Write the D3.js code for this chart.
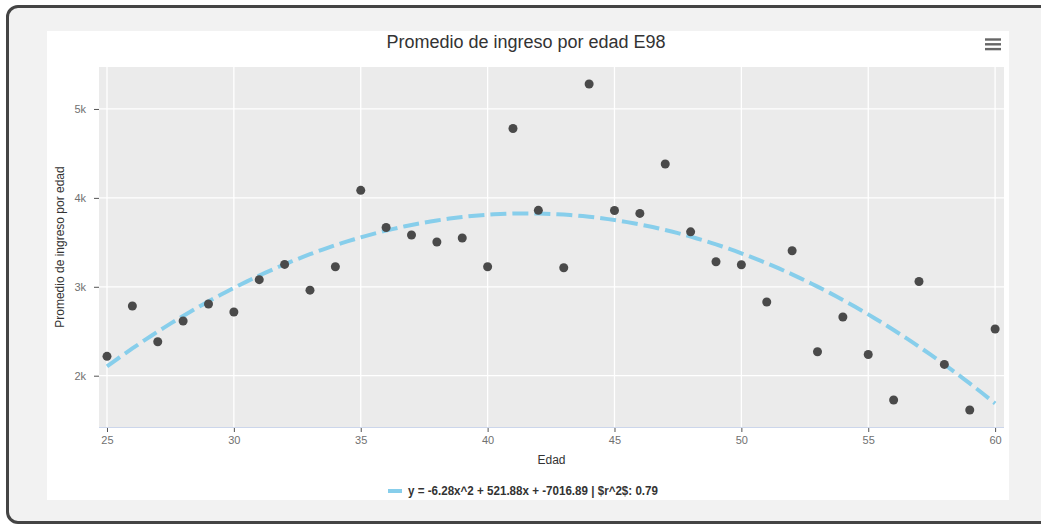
<!DOCTYPE html>
<html>
<head>
<meta charset="utf-8">
<script src="https://cdn.jsdelivr.net/npm/d3@7/dist/d3.min.js"></script>
<style>
	html,body{margin:0;padding:0;background:#fff;}
	body{width:1041px;height:525px;overflow:hidden;position:relative;font-family:'Liberation Sans',Arial,Helvetica,sans-serif;}
	.frame{position:absolute;left:6px;top:5px;width:1060px;height:513px;border:3px solid #444;border-radius:12px;background:#f2f2f2;}
	#chart{position:absolute;left:0;top:0;}
</style>
</head>
<body>
<div class="frame"></div>
<div id="chart"></div>
<script>
//Data
const ages = [25,26,27,28,29,30,31,32,33,34,35,36,37,38,39,40,41,42,43,44,45,46,47,48,49,50,51,52,53,54,55,56,57,58,59,60];
const income = [2218,2784,2382,2615,2807,2717,3080,3252,2962,3226,4085,3667,3583,3504,3549,3225,4780,3860,3214,5281,3858,3825,4381,3618,3281,3248,2829,3405,2269,2660,2238,1727,3060,2127,1614,2525];
const fitCoef = [-6.28, 521.88, -7016.89]; //a, b, c from the legend text
const xTicks = [25,30,35,40,45,50,55,60];
const yTicks = [2000,3000,4000,5000];
const titleText = 'Promedio de ingreso por edad E98';
const xTitle = 'Edad';
const yTitle = 'Promedio de ingreso por edad';
const legendText = 'y = -6.28x^2 + 521.88x + -7016.89 | $r^2$: 0.79';

//Set up DOM scaffolding
const width = 1041, height = 525;
const card = {x:47, y:31, w:962, h:469};
const plotBox = {l:99, t:67, r:1004, b:427};

const svg = d3.select('#chart')
	.append('svg')
	.attr('width',width)
	.attr('height',height);

svg.append('rect')
	.attr('x',card.x).attr('y',card.y)
	.attr('width',card.w).attr('height',card.h)
	.style('fill','#fff');

//Scales
const scaleX = d3.scaleLinear().domain([24.685,60.35]).range([plotBox.l,plotBox.r]);
const scaleY = d3.scaleLinear().domain([1423,5472]).range([plotBox.b,plotBox.t]);

//Plot background
svg.append('rect')
	.attr('x',plotBox.l).attr('y',plotBox.t)
	.attr('width',plotBox.r-plotBox.l).attr('height',plotBox.b-plotBox.t)
	.style('fill','#ebebeb');

//Grid
svg.append('g').selectAll('line')
	.data(xTicks).enter().append('line')
	.attr('x1',d=>scaleX(d)).attr('x2',d=>scaleX(d))
	.attr('y1',plotBox.t).attr('y2',plotBox.b)
	.style('stroke','#fff').style('stroke-width',1.3);
svg.append('g').selectAll('line')
	.data(yTicks).enter().append('line')
	.attr('x1',plotBox.l).attr('x2',plotBox.r)
	.attr('y1',d=>scaleY(d)).attr('y2',d=>scaleY(d))
	.style('stroke','#fff').style('stroke-width',1.3);

//Axes
const axisX = d3.axisBottom(scaleX).tickValues(xTicks).tickSize(5).tickPadding(4);
const axisY = d3.axisLeft(scaleY).tickValues(yTicks).tickSize(5).tickPadding(8)
	.tickFormat(d => (d/1000)+'k');

const axisXNode = svg.append('g')
	.attr('transform',`translate(0,${plotBox.b})`)
	.call(axisX);
axisXNode.select('.domain').remove();
axisXNode.append('line')
	.attr('x1',plotBox.l).attr('x2',plotBox.r)
	.attr('y1',0.5).attr('y2',0.5)
	.style('stroke','#ccd6eb');

const axisYNode = svg.append('g')
	.attr('transform',`translate(${plotBox.l},0)`)
	.call(axisY);
axisYNode.select('.domain').remove();

svg.selectAll('.tick line').style('stroke','#555');
svg.selectAll('.tick text')
	.style('fill','#707070')
	.style('font-size','11px')
	.style('font-family','Liberation Sans, Arial, sans-serif');

//Fit curve
const curveX = d3.range(25,60.001,0.25);
const line = d3.line()
	.x(d => scaleX(d))
	.y(d => scaleY(fitCoef[0]*d*d + fitCoef[1]*d + fitCoef[2]));

svg.append('path')
	.datum(curveX)
	.attr('d',line)
	.style('fill','none')
	.style('stroke','#87ceeb')
	.style('stroke-width',4)
	.style('stroke-dasharray','16 6');

//Points
svg.append('g').selectAll('circle')
	.data(ages.map((a,i) => ({age:a, v:income[i]})))
	.enter().append('circle')
	.attr('cx',d=>scaleX(d.age))
	.attr('cy',d=>scaleY(d.v))
	.attr('r',4.5)
	.style('fill','#4a4a4a');

//Titles
svg.append('text')
	.attr('x',card.x+card.w/2 - 2).attr('y',48)
	.attr('text-anchor','middle')
	.style('font-size','18px').style('fill','#333')
	.text(titleText);

svg.append('text')
	.attr('x',(plotBox.l+plotBox.r)/2).attr('y',464)
	.attr('text-anchor','middle')
	.style('font-size','12px').style('fill','#333')
	.text(xTitle);

svg.append('text')
	.attr('transform',`translate(64,${(plotBox.t+plotBox.b)/2}) rotate(-90)`)
	.attr('text-anchor','middle')
	.style('font-size','12px').style('fill','#333')
	.text(yTitle);

//Legend
const legend = svg.append('g');
legend.append('line')
	.attr('x1',388).attr('x2',402)
	.attr('y1',491).attr('y2',491)
	.style('stroke','#87ceeb').style('stroke-width',4);
legend.append('text')
	.attr('x',408).attr('y',495)
	.attr('textLength',250).attr('lengthAdjust','spacingAndGlyphs')
	.style('font-size','12px').style('font-weight','bold').style('fill','#333')
	.text(legendText);

//Menu icon
svg.append('g').selectAll('line')
	.data([0,1,2]).enter().append('line')
	.attr('x1',985).attr('x2',1001)
	.attr('y1',d=>39.5+d*4.8).attr('y2',d=>39.5+d*4.8)
	.style('stroke','#666').style('stroke-width',2.4);
</script>
</body>
</html>
